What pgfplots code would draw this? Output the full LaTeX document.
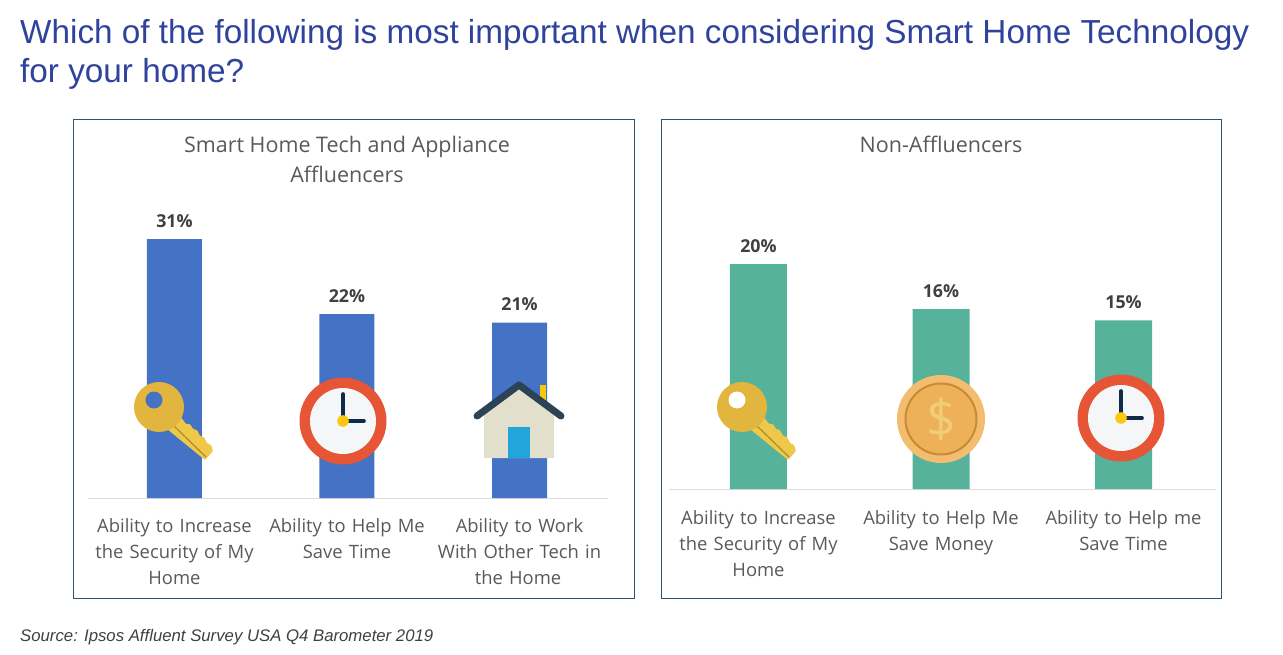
\documentclass[border=0pt]{standalone}
\usepackage{pgfplots}
\pgfplotsset{compat=1.18}
\usepackage{fontspec}
\setmainfont{Open Sans}
\newfontfamily\arialfont{Liberation Sans}
\definecolor{titleblue}{HTML}{2F429C}
\definecolor{frameblue}{HTML}{2F5373}
\definecolor{barblue}{HTML}{4472C4}
\definecolor{barteal}{HTML}{56B29B}
\definecolor{labelgray}{HTML}{595959}
\definecolor{valuegray}{HTML}{404040}
\definecolor{keygold}{HTML}{E2B53E}
\definecolor{keylight}{HTML}{EFC84A}
\definecolor{keydark}{HTML}{AD8A2E}
\definecolor{clockred}{HTML}{E65535}
\definecolor{clockface}{HTML}{F5F6F8}
\definecolor{clockhand}{HTML}{0F2B47}
\definecolor{dotyellow}{HTML}{FBC80F}
\definecolor{roofnavy}{HTML}{2C4356}
\definecolor{wallbeige}{HTML}{E2DFCD}
\definecolor{doorblue}{HTML}{21A5DB}
\definecolor{coinrim}{HTML}{F3BC6F}
\definecolor{coinface}{HTML}{EFB05A}
\definecolor{coinring}{HTML}{C98A35}
\definecolor{coinsign}{HTML}{F2CD78}

\pgfplotstableread{
x val
0 31
1 22
2 21
}\affluencers
\pgfplotstableread{
x val
0 20
1 16
2 15
}\nonaffluencers

% 1 px of the reference = 1pt here
\pgfplotsset{
  panel/.style={
    scale only axis, anchor=south west,
    axis y line=none, axis x line=bottom,
    axis line style={draw=black!13, line width=1pt, -},
    x axis line style={-},
    ymin=0, xtick=data, major tick length=0pt,
    ybar, clip=false,
    /pgf/number format/assume math mode=true,
    nodes near coords={\pgfmathprintnumber{\pgfplotspointmeta}\%},
    every node near coord/.append style={font=\fontsize{17.8}{20}\selectfont\bfseries, text=valuegray, yshift=8pt},
    xticklabel style={font=\fontsize{18.4}{26}\selectfont, text=labelgray, align=center, text width=172pt, anchor=north, yshift=-17pt},
  }
}

% icons, centred on their own origin
\newcommand{\clockicon}[2]{%
  \begin{scope}[shift={(#1,#2)}]
    \fill[clockred] (0,0) circle (43.5);
    \fill[clockface] (0,0) circle (33);
    \draw[clockhand, line width=3.6pt, line cap=round] (0,0) -- (0,-27);
    \draw[clockhand, line width=3.6pt, line cap=round] (0,0) -- (21,0);
    \fill[dotyellow] (0,0) circle (5.8);
  \end{scope}}
\newcommand{\keyicon}[3]{%
  \begin{scope}[shift={(#1,#2)}]
    \fill[keylight, rounded corners=1pt] (8,22) -- (21,9) -- (27,17) -- (31,17) -- (34,22) -- (38,23) -- (41,29) -- (45,30) -- (48,36) -- (52,38) -- (54,44) -- (46,53) -- cycle;
    \draw[keydark, line width=1.2pt] (14,18) -- (47,50);
    \fill[keygold] (0,0) circle (25);
    \fill[#3] (-5,-7) circle (8.5);
  \end{scope}}
\newcommand{\houseicon}[2]{%
  \begin{scope}[shift={(#1,#2)}]
    \fill[dotyellow] (20.5,-36) rectangle (27,-18);
    \fill[wallbeige] (-35,-8) -- (0,-34) -- (35,-8) -- (35,37) -- (-35,37) -- cycle;
    \fill[doorblue] (-11,5.5) rectangle (11,37);
    \draw[roofnavy, line width=7pt, line cap=round, line join=round] (-42,-5) -- (0,-36) -- (42,-5);
  \end{scope}}
\newcommand{\coinicon}[2]{%
  \begin{scope}[shift={(#1,#2)}]
    \fill[coinrim] (0,0) circle (44);
    \fill[coinface] (0,0) circle (36);
    \draw[coinring, line width=2pt] (0,0) circle (35.5);
    \node[text=coinsign, font=\fontsize{52}{52}\selectfont] at (0,0) {\$};
  \end{scope}}

\begin{document}
\begin{tikzpicture}[x=1pt, y=-1pt]
\path (0,0) rectangle (1283,655);

\node[anchor=base west, inner sep=0, text=titleblue, font=\arialfont\fontsize{33.3}{40}\selectfont] at (20,44) {Which of the following is most important when considering Smart Home Technology};
\node[anchor=base west, inner sep=0, text=titleblue, font=\arialfont\fontsize{33.3}{40}\selectfont] at (20,83) {for your home?};

\draw[frameblue, line width=1.2pt] (73.5,119.5) rectangle (634.5,598.5);
\draw[frameblue, line width=1.2pt] (661.5,119.5) rectangle (1221.5,598.5);

\node[text=labelgray, font=\fontsize{21.5}{30}\selectfont, align=center, anchor=center] at (347,159) {Smart Home Tech and Appliance\\Affluencers};
\node[text=labelgray, font=\fontsize{21.5}{30}\selectfont, anchor=center] at (941,144) {Non-Affluencers};

\begin{axis}[panel, at={(87.5pt,-498pt)},
  width=520pt, height=259pt, bar width=55pt,
  xmin=-0.504, xmax=2.51, ymax=31,
  xticklabels={{Ability to Increase\\the Security of My\\Home},{Ability to Help Me\\Save Time},{Ability to Work\hspace*{3pt}\\With Other Tech in\hspace*{3pt}\\the Home\hspace*{3pt}}}]
\addplot[fill=barblue, draw=none] table[x=x, y=val] {\affluencers};
\end{axis}

\begin{axis}[panel, at={(668.5pt,-489pt)},
  xticklabel style={yshift=-1pt},
  width=547pt, height=225pt, bar width=57pt,
  xmin=-0.493, xmax=2.504, ymax=20,
  xticklabels={{Ability to Increase\\the Security of My\\Home},{Ability to Help Me\\Save Money},{Ability to Help me\\Save Time}}]
\addplot[fill=barteal, draw=none] table[x=x, y=val] {\nonaffluencers};
\end{axis}

\keyicon{159}{407}{barblue}
\clockicon{343}{421}
\houseicon{519}{421}
\keyicon{742}{407}{white}
\coinicon{941}{419}
\clockicon{1121}{418}

\node[anchor=base west, inner sep=0, text=valuegray, font=\arialfont\itshape\fontsize{16.75}{20}\selectfont] at (20,641) {Source: Ipsos Affluent Survey USA Q4 Barometer 2019};
\end{tikzpicture}
\end{document}
